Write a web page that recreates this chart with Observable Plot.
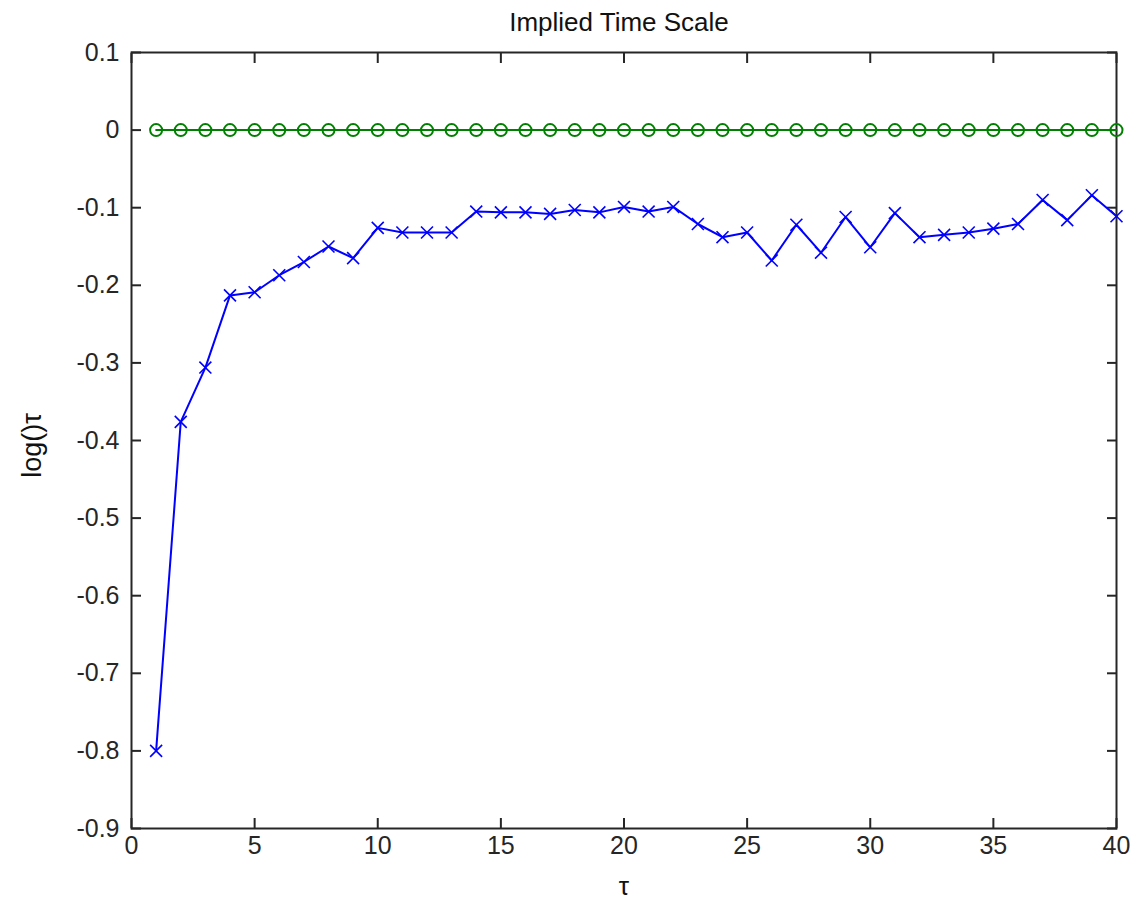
<!DOCTYPE html>
<html>
<head>
<meta charset="utf-8">
<script src="https://cdn.jsdelivr.net/npm/d3@7"></script>
<script src="https://cdn.jsdelivr.net/npm/@observablehq/plot@0.6"></script>
<style>
  body { margin: 0; background: #ffffff; }
  #chart svg { display: block; }
</style>
</head>
<body>
<div id="chart"></div>
<script>
// Lag time τ
const tau = [1, 2, 3, 4, 5, 6, 7, 8, 9, 10,
             11, 12, 13, 14, 15, 16, 17, 18, 19, 20,
             21, 22, 23, 24, 25, 26, 27, 28, 29, 30,
             31, 32, 33, 34, 35, 36, 37, 38, 39, 40];

// log(λ)/τ of the slow eigenvalue at each lag
const slowRate = [-0.800, -0.376, -0.306, -0.213, -0.209, -0.187, -0.170, -0.150, -0.165, -0.126,
                  -0.132, -0.132, -0.132, -0.105, -0.106, -0.106, -0.108, -0.103, -0.106, -0.099,
                  -0.105, -0.099, -0.121, -0.138, -0.132, -0.168, -0.122, -0.158, -0.112, -0.151,
                  -0.107, -0.138, -0.135, -0.132, -0.127, -0.121, -0.090, -0.116, -0.084, -0.111];

// Stationary eigenvalue (λ = 1) gives zero at every lag
const stationaryRate = [0, 0, 0, 0, 0, 0, 0, 0, 0, 0,
                        0, 0, 0, 0, 0, 0, 0, 0, 0, 0,
                        0, 0, 0, 0, 0, 0, 0, 0, 0, 0,
                        0, 0, 0, 0, 0, 0, 0, 0, 0, 0];

const xTicks = [0, 5, 10, 15, 20, 25, 30, 35, 40];
const yTicks = [0.1, 0, -0.1, -0.2, -0.3, -0.4, -0.5, -0.6, -0.7, -0.8, -0.9];

const titleText = "Implied Time Scale";
const xLabel = "τ";
const yLabel = "log()τ";

const slow = tau.map((t, i) => ({tau: t, value: slowRate[i]}));
const stationary = tau.map((t, i) => ({tau: t, value: stationaryRate[i]}));

const axisColor = "#262626";
const font = "'Liberation Sans', Arial, Helvetica, sans-serif";

const fmtX = d => String(d);
const fmtY = d => (d === 0 ? "0" : d3.format(".1f")(d).replace("−", "-"));

const chart = Plot.plot({
  width: 1133,
  height: 904,
  marginLeft: 131,
  marginRight: 17,
  marginTop: 52,
  marginBottom: 76,
  style: {fontFamily: font, fontSize: "25px", color: axisColor, background: "#ffffff"},
  x: {domain: [0, 40]},
  y: {domain: [-0.9, 0.1]},
  marks: [
    Plot.frame({stroke: axisColor, strokeWidth: 2}),
    // bottom and left axes: inward ticks, numeric labels
    Plot.axisX({anchor: "bottom", ticks: xTicks, tickSize: -10, tickPadding: 18, tickFormat: fmtX,
                stroke: axisColor, strokeWidth: 2, strokeOpacity: 1, fill: axisColor, fontSize: 25, label: null}),
    Plot.axisY({anchor: "left", ticks: yTicks, tickSize: -10, tickPadding: 22, tickFormat: fmtY,
                stroke: axisColor, strokeWidth: 2, strokeOpacity: 1, fill: axisColor, fontSize: 25, label: null}),
    // top and right axes: inward ticks only
    Plot.axisX({anchor: "top", ticks: xTicks, tickSize: -10, tickFormat: () => "",
                stroke: axisColor, strokeWidth: 2, strokeOpacity: 1, label: null}),
    Plot.axisY({anchor: "right", ticks: yTicks, tickSize: -10, tickFormat: () => "",
                stroke: axisColor, strokeWidth: 2, strokeOpacity: 1, label: null}),
    // stationary series
    Plot.line(stationary, {x: "tau", y: "value", stroke: "#008000", strokeWidth: 2}),
    Plot.dot(stationary, {x: "tau", y: "value", stroke: "#008000", strokeWidth: 2, r: 6, fill: "none"}),
    // slow process
    Plot.line(slow, {x: "tau", y: "value", stroke: "#0000ff", strokeWidth: 2}),
    Plot.dot(slow, {x: "tau", y: "value", symbol: "times", stroke: "#0000ff", strokeWidth: 1.6, r: 5.5}),
    // title and axis labels
    Plot.text([titleText], {frameAnchor: "top", dx: -5, dy: -30, lineAnchor: "middle", fontSize: 26, fill: "#111", text: d => d}),
    Plot.text([xLabel], {frameAnchor: "bottom", dy: 66, fontSize: 26, fill: "#111", text: d => d}),
    Plot.text([yLabel], {frameAnchor: "left", textAnchor: "middle", dx: -99, dy: 5, rotate: -90, fontSize: 27, fill: "#111", text: d => d})
  ]
});

document.getElementById("chart").appendChild(chart);
</script>
</body>
</html>
